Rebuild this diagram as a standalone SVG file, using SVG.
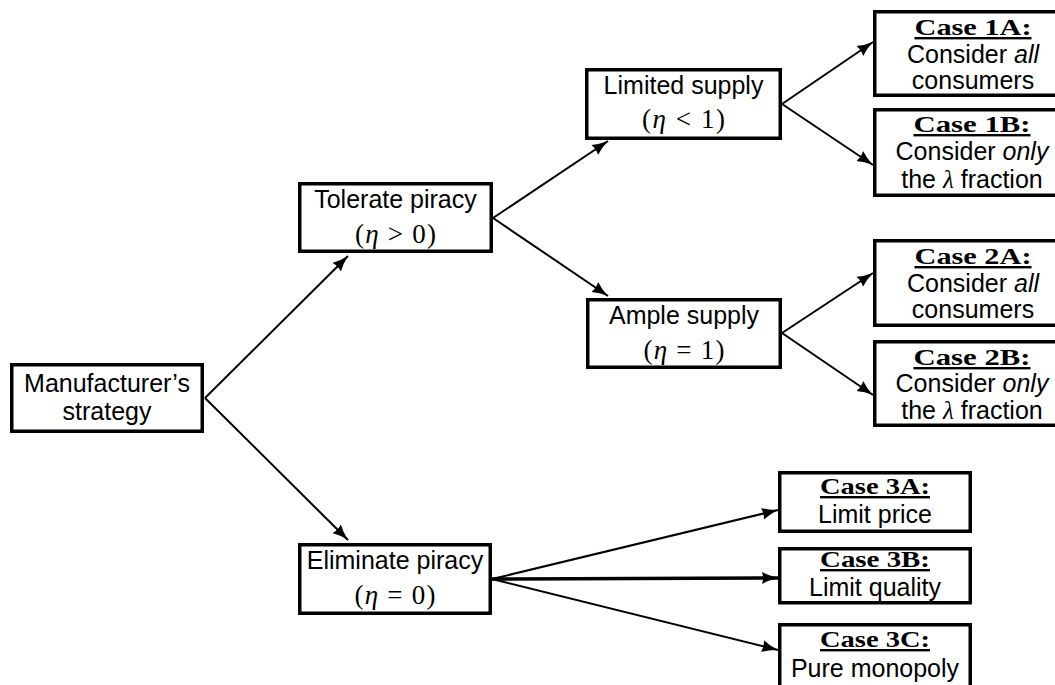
<svg xmlns="http://www.w3.org/2000/svg" width="1055" height="685" viewBox="0 0 1055 685">
<defs>
<style>
.box{fill:#fff;stroke:#000;stroke-width:3.5}
.t{font-family:"Liberation Sans",Arial,sans-serif;font-size:25px;text-anchor:middle;fill:#000}
.m{font-family:"Liberation Serif","Times New Roman",serif;font-size:27px;text-anchor:middle;fill:#000}
.h{font-family:"Liberation Serif","Times New Roman",serif;font-size:24px;font-weight:bold;text-anchor:middle;text-decoration:underline;fill:#000}
.i{font-style:italic}
.ser{font-family:"Liberation Serif","Times New Roman",serif;font-style:italic}
.c{fill:none;stroke:#000;stroke-width:2}
.thick{stroke-width:3.5}
</style>
<marker id="arr" markerUnits="userSpaceOnUse" markerWidth="17" markerHeight="13" refX="16" refY="6.5" orient="auto">
<path d="M0,0.5 Q7,4.5 16,6.5 Q7,8.5 0,12.5 Q2,6.5 0,0.5 z" fill="#000"/>
</marker>
</defs>
<rect width="1055" height="685" fill="#fff"/>
<g id="connectors">
<line class="c" x1="205" y1="398" x2="348" y2="256" marker-end="url(#arr)"/>
<line class="c" x1="205" y1="398" x2="348" y2="540" marker-end="url(#arr)"/>
<line class="c" x1="493" y1="218" x2="608" y2="141" marker-end="url(#arr)"/>
<line class="c" x1="493" y1="218" x2="608" y2="296" marker-end="url(#arr)"/>
<line class="c" x1="782" y1="104" x2="873" y2="42" marker-end="url(#arr)"/>
<line class="c" x1="782" y1="104" x2="873" y2="165" marker-end="url(#arr)"/>
<line class="c" x1="782" y1="333" x2="873" y2="273" marker-end="url(#arr)"/>
<line class="c" x1="782" y1="333" x2="873" y2="395" marker-end="url(#arr)"/>
<line class="c" x1="492" y1="579" x2="778" y2="510" marker-end="url(#arr)"/>
<line class="c thick" x1="492" y1="579" x2="778" y2="578" marker-end="url(#arr)"/>
<line class="c" x1="492" y1="579" x2="778" y2="650" marker-end="url(#arr)"/>
</g>
<g id="manufacturer">
<rect class="box" x="11.75" y="364.75" width="190.5" height="66.5"/>
<text class="t" x="107" y="392">Manufacturer’s</text>
<text class="t" x="107" y="420">strategy</text>
</g>
<g id="tolerate">
<rect class="box" x="299.75" y="183.75" width="191.5" height="67.5"/>
<text class="t" x="395.5" y="208">Tolerate piracy</text>
<text class="m" x="395.5" y="243" textLength="81" lengthAdjust="spacing">(<tspan class="i">η</tspan> &gt; 0)</text>
</g>
<g id="eliminate">
<rect class="box" x="299.75" y="544.75" width="190.5" height="68.5"/>
<text class="t" x="395" y="569">Eliminate piracy</text>
<text class="m" x="395" y="604" textLength="81" lengthAdjust="spacing">(<tspan class="i">η</tspan> = 0)</text>
</g>
<g id="limited">
<rect class="box" x="586.75" y="69.75" width="193.5" height="68.5"/>
<text class="t" x="683.5" y="94">Limited supply</text>
<text class="m" x="683.5" y="128" textLength="83" lengthAdjust="spacing">(<tspan class="i">η</tspan> &lt; 1)</text>
</g>
<g id="ample">
<rect class="box" x="587.75" y="299.75" width="192.5" height="67.5"/>
<text class="t" x="684" y="324">Ample supply</text>
<text class="m" x="684" y="359" textLength="81" lengthAdjust="spacing">(<tspan class="i">η</tspan> = 1)</text>
</g>
<g id="case1a">
<rect class="box" x="874.75" y="11.75" width="210" height="83.5"/>
<text class="h" x="973" y="35" textLength="117" lengthAdjust="spacingAndGlyphs">Case 1A:</text>
<text class="t" x="973" y="63">Consider <tspan class="i">all</tspan></text>
<text class="t" x="973" y="89">consumers</text>
</g>
<g id="case1b">
<rect class="box" x="874.75" y="109.75" width="210" height="85.5"/>
<text class="h" x="972" y="132" textLength="117" lengthAdjust="spacingAndGlyphs">Case 1B:</text>
<text class="t" x="972" y="160">Consider <tspan class="i">only</tspan></text>
<text class="t" x="972" y="188">the <tspan class="ser">λ</tspan> fraction</text>
</g>
<g id="case2a">
<rect class="box" x="874.75" y="240.75" width="210" height="84.5"/>
<text class="h" x="973" y="264" textLength="117" lengthAdjust="spacingAndGlyphs">Case 2A:</text>
<text class="t" x="973" y="292">Consider <tspan class="i">all</tspan></text>
<text class="t" x="973" y="318">consumers</text>
</g>
<g id="case2b">
<rect class="box" x="874.75" y="341.75" width="210" height="83.5"/>
<text class="h" x="972" y="365" textLength="117" lengthAdjust="spacingAndGlyphs">Case 2B:</text>
<text class="t" x="972" y="392">Consider <tspan class="i">only</tspan></text>
<text class="t" x="972" y="419">the <tspan class="ser">λ</tspan> fraction</text>
</g>
<g id="case3a">
<rect class="box" x="779.75" y="472.75" width="190.5" height="58.5"/>
<text class="h" x="875" y="494" textLength="110" lengthAdjust="spacingAndGlyphs">Case 3A:</text>
<text class="t" x="875" y="523">Limit price</text>
</g>
<g id="case3b">
<rect class="box" x="779.75" y="548.75" width="190.5" height="54"/>
<text class="h" x="875" y="567" textLength="110" lengthAdjust="spacingAndGlyphs">Case 3B:</text>
<text class="t" x="875" y="596">Limit quality</text>
</g>
<g id="case3c">
<rect class="box" x="779.75" y="624.75" width="190.5" height="80"/>
<text class="h" x="875" y="647" textLength="110" lengthAdjust="spacingAndGlyphs">Case 3C:</text>
<text class="t" x="875" y="677">Pure monopoly</text>
</g>
</svg>
